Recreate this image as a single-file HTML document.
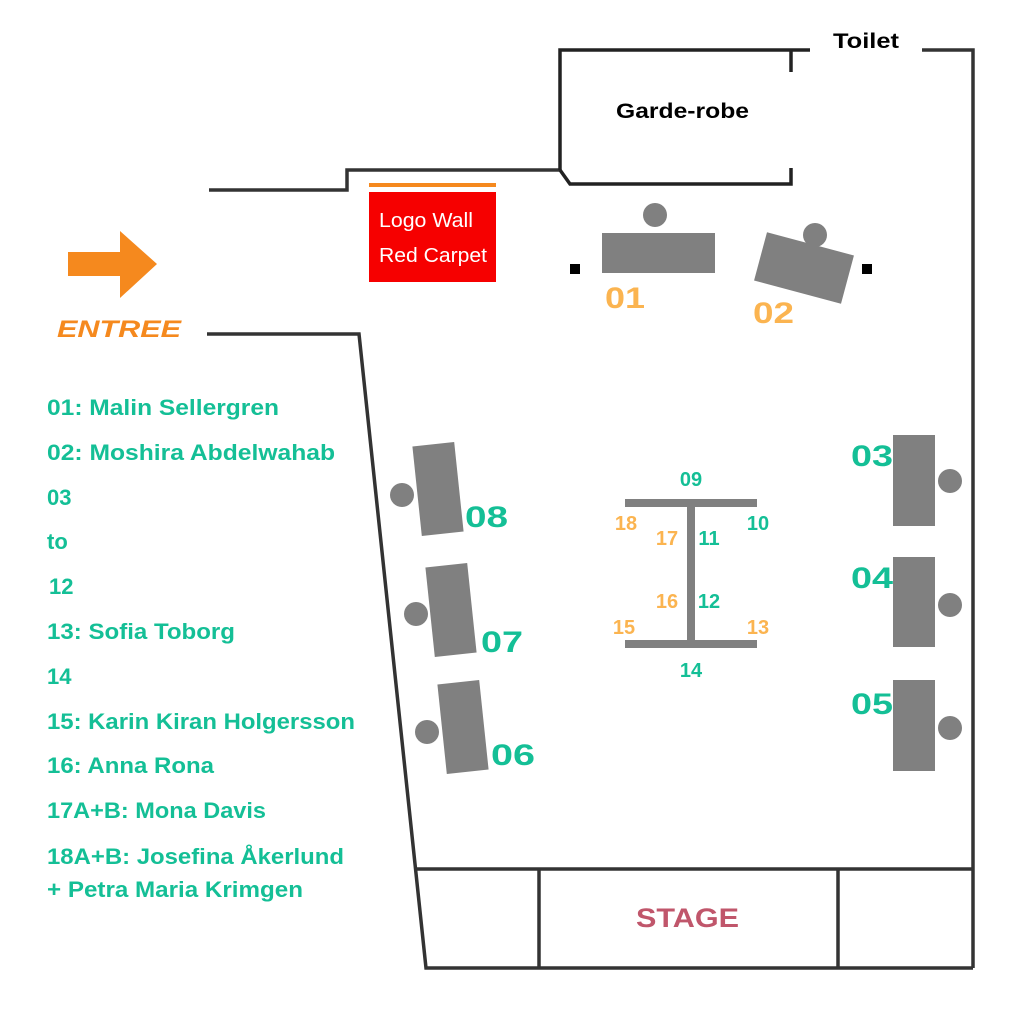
<!DOCTYPE html>
<html><head><meta charset="utf-8"><style>
html,body{margin:0;padding:0;background:#fff;}
svg{display:block;}
text{font-family:"Liberation Sans","DejaVu Sans",sans-serif;}
</style></head><body>
<svg width="1023" height="1018" viewBox="0 0 1023 1018" xmlns="http://www.w3.org/2000/svg">
<rect width="1023" height="1018" fill="#fff"/>
<g fill="none" stroke="#333" stroke-width="3.5">
<polyline points="209,190 347,190 347,170 560,170"/>
<polyline points="560,170 560,50 810,50" stroke="#222"/>
<polyline points="922,50 973,50 973,968"/>
<polyline points="560,170 570,184 791,184 791,168" stroke="#222"/>
<line x1="791" y1="50" x2="791" y2="72" stroke="#222"/>
<polyline points="207,334 359,334 426,968 973,968"/>
<line x1="416" y1="869" x2="973" y2="869"/>
<line x1="539" y1="869" x2="539" y2="968"/>
<line x1="838" y1="869" x2="838" y2="968"/>
</g>
<rect x="369" y="183" width="127" height="4" fill="#f5891e"/>
<rect x="369" y="192" width="127" height="90" fill="#f60000"/>
<text x="379" y="227" fill="#fff" font-size="20" textLength="94" lengthAdjust="spacingAndGlyphs">Logo Wall</text>
<text x="379" y="262" fill="#fff" font-size="20" textLength="108" lengthAdjust="spacingAndGlyphs">Red Carpet</text>
<polygon points="68,252 120,252 120,231 157,264 120,298 120,276 68,276" fill="#f5891e"/>
<text x="57" y="337" fill="#f5891e" font-size="24" font-weight="bold" font-style="italic" textLength="124" lengthAdjust="spacingAndGlyphs">ENTREE</text>
<text x="833" y="48" font-size="21" font-weight="bold" textLength="66" lengthAdjust="spacingAndGlyphs">Toilet</text>
<text x="616" y="118" font-size="21" font-weight="bold" textLength="133" lengthAdjust="spacingAndGlyphs">Garde-robe</text>
<g fill="#808080">
<rect x="602" y="233" width="113" height="40"/>
<circle cx="655" cy="215" r="12"/>
<rect x="759" y="243" width="90" height="50" transform="rotate(15 804 268)"/>
<circle cx="815" cy="235" r="12"/>
<rect x="417" y="444" width="42" height="90" transform="rotate(-6 438 489)"/>
<circle cx="402" cy="495" r="12"/>
<rect x="430" y="565" width="42" height="90" transform="rotate(-6 451 610)"/>
<circle cx="416" cy="614" r="12"/>
<rect x="442" y="682" width="42" height="90" transform="rotate(-6 463 727)"/>
<circle cx="427" cy="732" r="12"/>
<rect x="893" y="435" width="42" height="91"/>
<circle cx="950" cy="481" r="12"/>
<rect x="893" y="557" width="42" height="90"/>
<circle cx="950" cy="605" r="12"/>
<rect x="893" y="680" width="42" height="91"/>
<circle cx="950" cy="728" r="12"/>
<rect x="625" y="499" width="132" height="8"/>
<rect x="687" y="503" width="8" height="140"/>
<rect x="625" y="640" width="132" height="8"/>
</g>
<rect x="570" y="264" width="10" height="10" fill="#000"/>
<rect x="862" y="264" width="10" height="10" fill="#000"/>
<g fill="#fbb450" font-size="30" font-weight="bold">
<text x="605" y="308" textLength="40" lengthAdjust="spacingAndGlyphs">01</text>
<text x="753" y="323" textLength="41" lengthAdjust="spacingAndGlyphs">02</text>
</g>
<g fill="#14bf96" font-size="30" font-weight="bold">
<text x="465" y="527" textLength="43" lengthAdjust="spacingAndGlyphs">08</text>
<text x="481" y="652" textLength="42" lengthAdjust="spacingAndGlyphs">07</text>
<text x="491" y="765" textLength="44" lengthAdjust="spacingAndGlyphs">06</text>
<text x="851" y="466" textLength="42" lengthAdjust="spacingAndGlyphs">03</text>
<text x="851" y="588" textLength="42" lengthAdjust="spacingAndGlyphs">04</text>
<text x="851" y="714" textLength="42" lengthAdjust="spacingAndGlyphs">05</text>
</g>
<g font-size="20" text-anchor="middle" font-weight="bold">
<text x="691" y="486" fill="#14bf96">09</text>
<text x="626" y="530" fill="#fbb450">18</text>
<text x="667" y="545" fill="#fbb450">17</text>
<text x="709" y="545" fill="#14bf96">11</text>
<text x="758" y="530" fill="#14bf96">10</text>
<text x="667" y="608" fill="#fbb450">16</text>
<text x="709" y="608" fill="#14bf96">12</text>
<text x="624" y="634" fill="#fbb450">15</text>
<text x="758" y="634" fill="#fbb450">13</text>
<text x="691" y="677" fill="#14bf96">14</text>
</g>
<text x="636" y="927" fill="#c0566b" font-size="27" font-weight="bold" textLength="103" lengthAdjust="spacingAndGlyphs">STAGE</text>
<g fill="#14bf96" font-size="22" font-weight="bold">
<text x="47" y="415" textLength="232" lengthAdjust="spacingAndGlyphs">01: Malin Sellergren</text>
<text x="47" y="460" textLength="288" lengthAdjust="spacingAndGlyphs">02: Moshira Abdelwahab</text>
<text x="47" y="505">03</text>
<text x="47" y="549">to</text>
<text x="49" y="594">12</text>
<text x="47" y="639" textLength="188" lengthAdjust="spacingAndGlyphs">13: Sofia Toborg</text>
<text x="47" y="684">14</text>
<text x="47" y="729" textLength="308" lengthAdjust="spacingAndGlyphs">15: Karin Kiran Holgersson</text>
<text x="47" y="773" textLength="167" lengthAdjust="spacingAndGlyphs">16: Anna Rona</text>
<text x="47" y="818" textLength="219" lengthAdjust="spacingAndGlyphs">17A+B: Mona Davis</text>
<text x="47" y="864" textLength="297" lengthAdjust="spacingAndGlyphs">18A+B: Josefina Åkerlund</text>
<text x="47" y="897" textLength="256" lengthAdjust="spacingAndGlyphs">+ Petra Maria Krimgen</text>
</g>
</svg>
</body></html>
